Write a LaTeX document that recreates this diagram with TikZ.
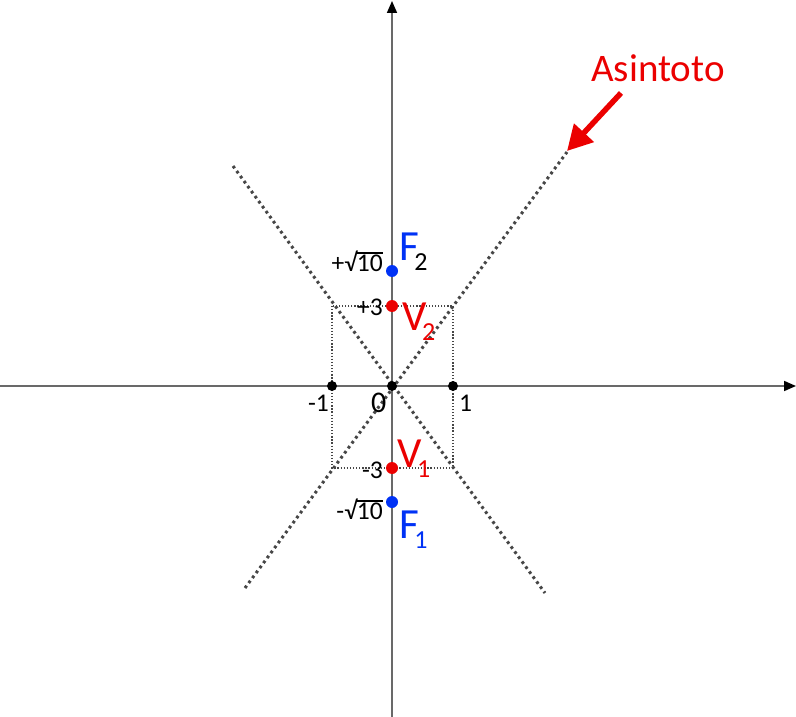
\documentclass[tikz,border=0pt]{standalone}
\usepackage{fontspec}
\setmainfont{Carlito}
\usetikzlibrary{arrows.meta}
\definecolor{axisgray}{RGB}{105,105,105}
\definecolor{dotgray}{RGB}{70,70,70}
\definecolor{myred}{RGB}{235,0,0}
\definecolor{myblue}{RGB}{0,50,245}
\newcommand\myovl[1]{\setbox0\hbox{#1}\rlap{\rule[0.68em]{\wd0}{0.06em}}\box0}
\newcommand\mysub[1]{\kern-4.5pt\raisebox{-10pt}{\fontsize{26}{26}\selectfont #1}}
\begin{document}
\begin{tikzpicture}[x=1pt,y=-1pt,
 axisline/.style={draw=axisgray, line width=1.7pt, -{Triangle[length=12pt,width=10pt,color=black]}},
 asym/.style={draw=dotgray, line width=3pt, dash pattern=on 2.8pt off 3.4pt},
 boxline/.style={draw=dotgray, line width=1.2pt, dash pattern=on 1.3pt off 1.8pt},
 pt/.style={circle, fill=#1, inner sep=0, minimum size=12pt},
 bpt/.style={circle, fill=black, inner sep=0, minimum size=10pt},
 lbl/.style={inner sep=0, font=\fontsize{25.5}{26}\selectfont},
 big/.style={inner sep=0, font=\fontsize{43}{43}\selectfont},
 callout/.style={draw=myred, line width=5.5pt, -{Triangle[length=25pt,width=26pt]}},
]
\useasboundingbox (0,0) rectangle (796,717);
% axes
\coordinate (xl) at (0,386);
\coordinate (xr) at (796,386);
\coordinate (yb) at (392,717);
\coordinate (yt) at (392,1);
\draw[axisline] (xl) -- (xr);
\draw[axisline] (yb) -- (yt);
% box
\coordinate (b1) at (332,306);
\coordinate (b2) at (453,468);
\draw[boxline] (b1) rectangle (b2);
% asymptotes
\coordinate (a1) at (233,166);
\coordinate (a2) at (545,593);
\coordinate (a3) at (245,588);
\coordinate (a4) at (567,152);
\draw[asym] (a1) -- (a2);
\draw[asym] (a3) -- (a4);
% points
\node[bpt] (O) at (392,386) {};
\node[bpt] (m1) at (332,386) {};
\node[bpt] (p1) at (453,386) {};
\node[pt=myred] (V2) at (392,306) {};
\node[pt=myred] (V1) at (392,468) {};
\node[pt=myblue] (F2) at (392,271) {};
\node[pt=myblue] (F1) at (392,502) {};
% labels
\node[lbl, anchor=base east] (lm1) at (329,411) {-1};
\node[lbl, anchor=base west] (lp1) at (459,411) {1};
\node[inner sep=0, font=\fontsize{30}{30}\selectfont, anchor=base west] (l0) at (371,412) {0};
\node[lbl, anchor=base east] (lp3) at (383,315) {+3};
\node[lbl, anchor=base east] (lm3) at (383,478) {-3};
\node[lbl, anchor=base east] (lps) at (383,271) {+√\myovl{10}};
\node[lbl, anchor=base east] (lms) at (383,519) {-√\myovl{10}};
\node[big, anchor=base west] (tF2) at (399,260) {\textcolor{myblue}{F}\mysub{2}};
\node[big, text=myblue, anchor=base west] (tF1) at (399,538) {F\mysub{1}};
\node[big, text=myred, anchor=base west] (tV2) at (402,330) {V\mysub{2}};
\node[big, text=myred, anchor=base west] (tV1) at (397,467) {V\mysub{1}};
% callout
\node[inner sep=0, font=\fontsize{39}{39}\selectfont, text=myred] (asin) at (658,68) {Asintoto};
\coordinate (cs) at (621,93);
\coordinate (ct) at (567,151);
\draw[callout] (cs) -- (ct);
\end{tikzpicture}
\end{document}
